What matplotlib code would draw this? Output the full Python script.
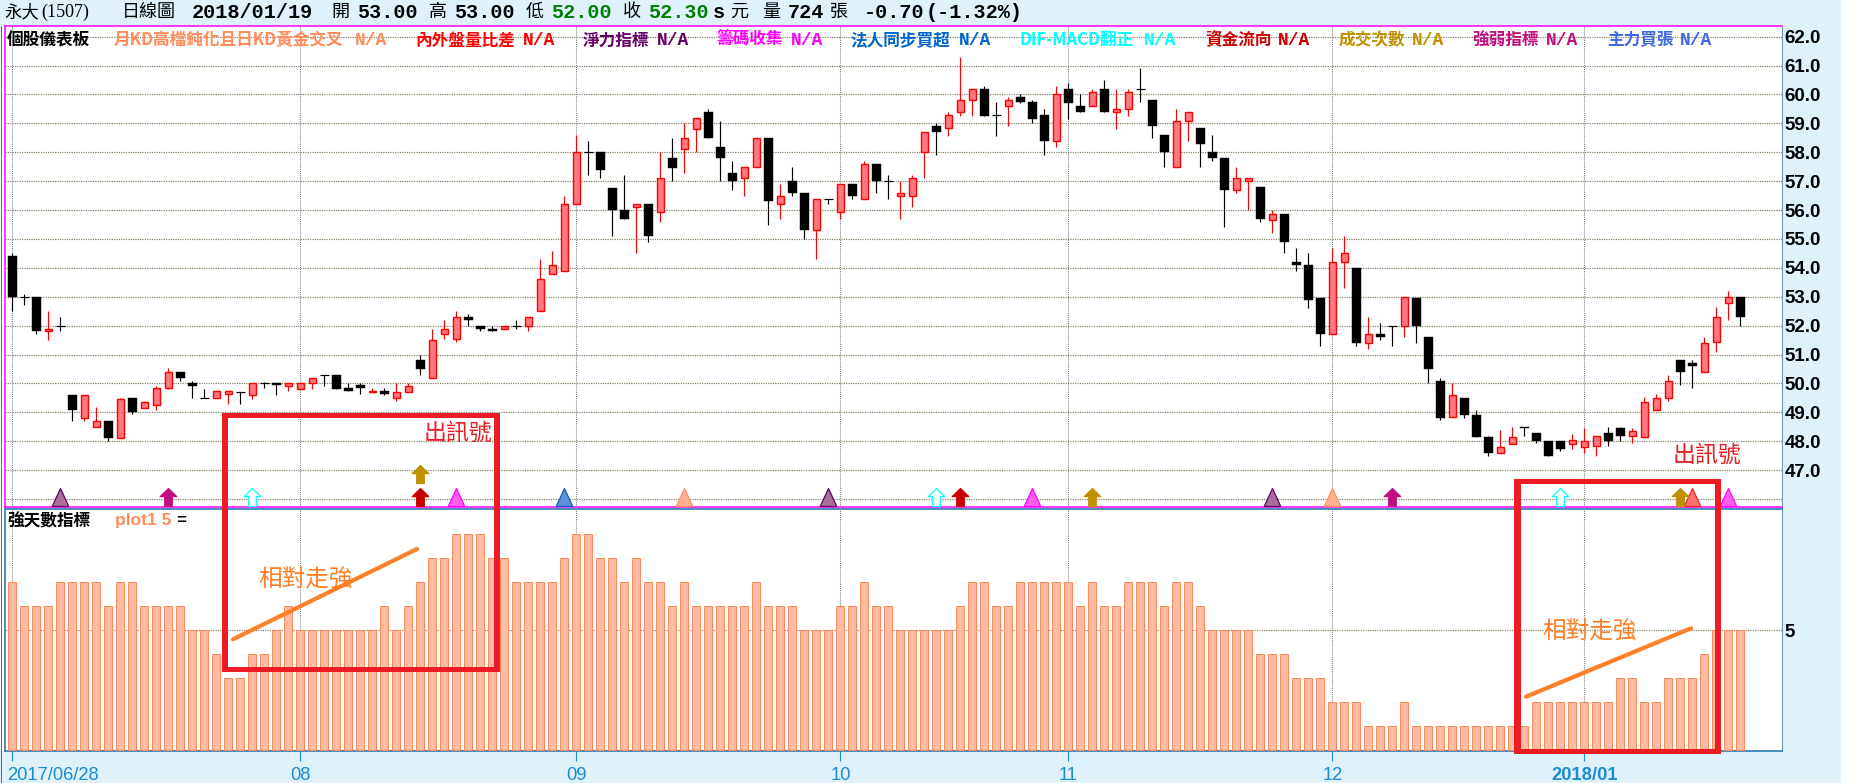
import matplotlib
matplotlib.use("Agg")
import matplotlib.pyplot as plt
import matplotlib.transforms as mt
from matplotlib.path import Path
from matplotlib.patches import Rectangle
from matplotlib.lines import Line2D

W, H = 1860, 783
CJK = ['Noto Sans CJK TC', 'DejaVu Sans']
plt.rcParams['font.family'] = CJK

opens = [54.4,53.0,53.0,51.8,52.0,49.6,48.8,48.5,48.7,48.1,49.5,49.15,49.25,49.85,50.4,50.0,49.5,49.5,49.65,49.7,
 49.6,50.0,50.0,49.9,49.8,50.0,50.3,50.3,49.85,49.95,49.7,49.75,49.5,49.7,50.8,50.2,51.7,51.55,52.3,52.0,
 51.9,51.9,52.0,52.0,52.5,53.8,53.9,56.2,58.0,58.0,56.75,56.0,56.1,56.2,55.95,57.8,58.1,58.8,59.4,58.2,
 57.3,57.1,57.5,58.5,56.2,57.0,56.6,55.3,56.4,55.95,56.9,56.4,57.6,57.0,56.5,56.5,58.0,58.9,58.85,59.4,
 59.8,60.2,59.3,59.6,59.9,59.75,59.3,58.4,60.2,59.6,59.6,60.2,59.4,59.5,60.2,59.8,58.6,57.5,59.1,58.85,
 58.0,57.8,56.7,57.0,56.8,55.65,55.85,54.2,54.1,52.95,51.7,54.2,54.0,51.4,51.7,52.0,52.0,52.95,51.6,50.1,
 48.85,49.5,48.9,48.15,47.6,47.9,48.5,48.3,48.0,48.0,47.9,47.8,47.85,48.3,48.45,48.2,48.15,49.1,49.5,50.8,
 50.7,50.4,51.45,52.8,53.0]
highs = [54.5,53.1,53.0,52.5,52.3,49.6,49.6,49.2,48.7,49.5,49.5,49.4,49.9,50.55,50.4,50.1,49.8,49.75,49.75,49.7,
 50.0,50.05,50.0,50.0,50.0,50.2,50.3,50.3,50.0,50.0,49.85,49.85,50.0,50.0,51.0,51.9,52.2,52.5,52.4,52.0,
 52.0,52.0,52.2,52.3,54.3,54.6,56.5,58.6,58.4,58.0,56.75,57.2,56.2,56.2,58.0,58.5,59.0,59.2,59.5,59.1,
 57.7,57.5,58.5,58.5,56.9,57.5,56.6,56.4,56.4,56.9,56.9,57.7,57.6,57.2,57.0,57.2,58.7,59.0,59.4,61.3,
 60.2,60.3,59.75,59.9,60.0,59.8,59.5,60.3,60.4,60.0,60.2,60.5,60.2,60.2,60.9,59.8,58.6,59.5,59.4,58.85,
 58.6,57.8,57.5,57.1,56.8,56.0,55.85,54.7,54.5,52.95,54.7,55.1,54.0,52.3,52.1,52.0,53.0,52.95,51.6,50.2,
 50.0,49.5,49.1,48.2,48.4,48.5,48.5,48.3,48.0,48.0,48.25,48.45,48.2,48.5,48.5,48.45,49.55,49.65,50.3,50.8,
 50.8,51.6,52.65,53.2,53.0]
lows = [52.5,52.7,51.7,51.5,51.8,48.7,48.7,48.5,48.0,48.1,48.95,49.15,49.1,49.8,50.1,49.5,49.5,49.5,49.3,49.3,
 49.45,49.85,49.6,49.75,49.8,49.8,49.9,49.8,49.75,49.65,49.7,49.6,49.4,49.7,50.3,50.2,51.55,51.45,52.0,51.8,
 51.8,51.9,51.9,51.8,52.5,53.8,53.9,56.2,57.2,57.1,55.1,55.7,54.5,54.9,55.6,57.0,57.3,58.0,58.5,57.0,
 56.7,56.5,57.5,55.5,55.7,56.5,55.0,54.3,56.2,55.7,56.4,56.4,56.6,56.4,55.7,56.1,57.1,57.9,58.55,59.25,
 59.25,59.25,58.55,58.9,59.7,59.0,57.9,58.2,59.15,59.4,59.6,59.4,58.8,59.25,59.75,58.5,57.5,57.5,58.4,57.5,
 57.7,55.4,56.6,56.0,55.6,55.2,54.5,53.9,52.6,51.3,51.7,53.3,51.3,51.2,51.5,51.3,51.6,51.4,50.0,48.75,
 48.85,48.8,48.15,47.5,47.6,47.9,48.2,47.95,47.5,47.65,47.75,47.6,47.5,47.85,48.0,47.95,48.15,49.1,49.4,49.95,
 49.85,50.4,51.1,52.2,52.0]
closes = [53.0,53.0,51.8,51.9,52.0,49.1,49.6,48.7,48.1,49.45,49.0,49.35,49.85,50.4,50.2,49.9,49.5,49.75,49.75,49.7,
 50.0,50.0,49.95,50.0,50.0,50.2,50.3,49.8,49.75,49.85,49.75,49.65,49.7,49.9,50.5,51.5,51.9,52.3,52.2,51.9,
 51.8,52.0,52.0,52.3,53.6,54.1,56.2,58.0,58.0,57.4,56.0,55.7,56.2,55.1,57.1,57.45,58.5,59.2,58.5,57.8,
 57.0,57.5,58.5,56.3,56.5,56.6,55.3,56.4,56.4,56.9,56.5,57.6,57.0,57.0,56.6,57.1,58.7,58.7,59.3,59.8,
 60.2,59.25,59.3,59.8,59.75,59.15,58.4,60.0,59.7,59.4,60.1,59.4,59.5,60.1,60.2,58.9,58.0,59.1,59.4,58.3,
 57.8,56.7,57.1,57.1,55.7,55.85,54.9,54.1,52.9,51.7,54.2,54.5,51.4,51.7,51.6,52.0,53.0,52.0,50.5,48.8,
 49.6,48.9,48.15,47.6,47.8,48.15,48.45,48.0,47.5,47.75,48.05,48.0,48.2,48.0,48.2,48.35,49.35,49.5,50.1,50.4,
 50.6,51.4,52.3,53.0,52.3]
strength = [7,6,6,6,7,7,7,7,6,7,7,6,6,6,6,5,5,4,3,3,4,4,5,6,5,5,5,5,5,5,5,6,5,6,7,8,8,9,9,9,
 8,8,7,7,7,7,8,9,9,8,8,7,8,7,7,6,7,6,6,6,6,6,7,6,6,6,5,5,5,6,6,7,6,6,5,5,5,5,5,6,
 7,7,6,6,7,7,7,7,7,6,7,6,6,7,7,7,6,7,7,6,5,5,5,5,4,4,4,3,3,3,2,2,2,1,1,1,2,1,1,1,
 1,1,1,1,1,1,1,2,2,2,2,2,2,2,3,3,2,2,3,3,3,4,5,5,5]
price_ticks = [47,48,49,50,51,52,53,54,55,56,57,58,59,60,61,62]
price_grid = [46] + price_ticks
month_pos = [0,24,47,69,88,110,131]
month_labels = ['2017/06/28','08','09','10','11','12','2018/01']

tri_purple = [4,68,105]
tri_magenta = [37,85,143]
tri_blue = [46]
tri_salmon = [56,110]
tri_red = [140]
arrow_pink = [13,115]
arrow_cyan = [20,77,129]
arrow_darkred = [34,79]
arrow_gold = [90,139]
arrow_gold_stacked = [34]
signal_level = 46.07
stacked_level = 46.87

legend_items = [
 ('個股儀表板', 7, None, '#000000'),
 ('月KD高檔鈍化且日KD黃金交叉', 114, 354.7, '#FF8C5A'),
 ('內外盤量比差', 415, 522.5, '#FF0000'),
 ('淨力指標', 582.4, 656.6, '#660066'),
 ('籌碼收集', 716.5, 790.6, '#FF00FF'),
 ('法人同步買超', 850.5, 958.5, '#0066CC'),
 ('DIF-MACD翻正', 1019.6, 1144, '#00FFFF'),
 ('資金流向', 1205, 1278, '#CC0000'),
 ('成交次數', 1339, 1412, '#BF9000'),
 ('強弱指標', 1472.7, 1546, '#C0107E'),
 ('主力買張', 1606.7, 1680, '#4169E1'),
]

BG = '#DFF2FC'
GRID_H = '#808060'
GRID_V = '#808080'
BLUE = '#1A6FA8'
MAG = '#FF00FF'
RED_BOX = '#ED1C24'
ORANGE = '#FF7F27'
LBLUE = '#1A8CD0'

fig = plt.figure(figsize=(W/100, H/100), dpi=100, facecolor='white')

back = fig.add_axes([0,0,1,1], zorder=0)
back.set_xlim(0,W); back.set_ylim(H,0); back.axis('off')
back.add_patch(Rectangle((0,0), 1841, H, fc=BG, ec='none'))
back.add_patch(Rectangle((0,26), 6, 725, fc='white', ec='none'))

PL, PR = 5.3, 1782
def axes_px(top, bottom):
    return [PL/W, 1-bottom/H, (PR-PL)/W, (bottom-top)/H]

ax1 = fig.add_axes(axes_px(26, 506.7), zorder=1, facecolor='white')
ax2 = fig.add_axes(axes_px(509.3, 751), zorder=1, facecolor='white')
xlim = ((PL-12.33)/12, (PR-12.33)/12)
ax1.set_xlim(*xlim); ax2.set_xlim(*xlim)
ax1.set_ylim(62-(506.7-36.7)/28.9, 62+(36.7-26)/28.9)
ax2.set_ylim(-0.03, 10.04)

dots = (0,(1,1))
for v in price_grid:
    ax1.axhline(v, color=GRID_H, lw=0.85, ls=dots, zorder=1)
for p in month_pos:
    ax1.axvline(p, color=GRID_V, lw=0.75, ls=dots, zorder=1)
    ax2.axvline(p, color=GRID_V, lw=0.75, ls=dots, zorder=1)
ax2.axhline(5, color=GRID_H, lw=0.85, ls=dots, zorder=1)

# candles
idx = range(len(closes))
for i in idx:
    o, h, l, c = opens[i], highs[i], lows[i], closes[i]
    up = c > o
    col = '#FF0000' if up else '#000000'
    ax1.vlines(i, l, h, color=col, lw=0.85, zorder=3)
    if o == c:
        ax1.hlines(c, i-0.36, i+0.36, color='#000000', lw=0.85, zorder=3)
    elif up:
        ax1.bar(i, c-o, bottom=o, width=0.62, fc='#FF7880', ec='#FF0000', lw=1.0, zorder=4)
    else:
        ax1.bar(i, o-c, bottom=c, width=0.72, fc='#000000', ec='#000000', lw=0.3, zorder=4)

# signal markers
tri = Path([(-0.92,-1),(0,1),(0.92,-1),(-0.92,-1)], closed=True)
arrow = Path([(0,1),(0.92,0.1),(0.42,0.1),(0.42,-1),(-0.42,-1),(-0.42,0.1),(-0.92,0.1),(0,1)], closed=True)
ms = 18*72/100
def mark(xs, level, path, fc, ec, lw=0.9):
    ax1.plot(xs, [level]*len(xs), ls='none', marker=path, ms=ms, mfc=fc, mec=ec, mew=lw, zorder=5)
mark(tri_purple, signal_level, tri, '#A87098', '#600060')
mark(tri_magenta, signal_level, tri, '#FF60F0', '#FF00FF')
mark(tri_blue, signal_level, tri, '#6090D8', '#1060C0')
mark(tri_salmon, signal_level, tri, '#FFB090', '#FF9060')
mark(tri_red, signal_level, tri, '#FF7070', '#FF2020')
mark(arrow_pink, signal_level, arrow, '#C0107E', '#C0107E')
mark(arrow_cyan, signal_level, arrow, '#FFFFFF', '#00FFFF')
mark(arrow_darkred, signal_level, arrow, '#C80000', '#C80000')
mark(arrow_gold, signal_level, arrow, '#BF9000', '#BF9000')
mark(arrow_gold_stacked, stacked_level, arrow, '#BF9000', '#BF9000')

# lower bars
ax2.bar(list(idx), strength, width=0.66, fc='#FFBBA3', ec='#FF8A5C', lw=0.72, zorder=3)

# axes styling
for ax in (ax1, ax2):
    ax.yaxis.tick_right()
for s in ('top','bottom','left'):
    ax1.spines[s].set_color(MAG); ax1.spines[s].set_linewidth(1.1)
ax1.spines['right'].set_color('#6A9AB8'); ax1.spines['right'].set_linewidth(0.8)
for s in ('top','bottom','left'):
    ax2.spines[s].set_color(BLUE); ax2.spines[s].set_linewidth(1.1)
ax2.spines['right'].set_color('#6A9AB8'); ax2.spines['right'].set_linewidth(0.8)

ax1.set_xticks([])
ax1.set_yticks(price_ticks)
ax1.set_yticklabels([f'{v:.1f}' for v in price_ticks], family=['Liberation Sans'], weight='bold', fontsize=13.5)
ax1.tick_params(axis='y', length=0, pad=2)
ax2.set_yticks([5]); ax2.set_yticklabels(['5'], family=['Liberation Sans'], weight='bold', fontsize=13.5)
ax2.tick_params(axis='y', length=0, pad=2)
ax2.set_xticks(month_pos)
ax2.set_xticklabels(month_labels, family=['Liberation Sans'], fontsize=13.2, color=LBLUE)
ax2.tick_params(axis='x', length=7.2, width=0.8, color=LBLUE, pad=4)
lbls = ax2.get_xticklabels()
lbls[0].set_ha('left')
lbls[0].set_transform(lbls[0].get_transform() + mt.Affine2D().translate(-5.5, 0))
lbls[-1].set_weight('bold')

# overlay
ov = fig.add_axes([0,0,1,1], zorder=5)
ov.set_xlim(0,W); ov.set_ylim(H,0); ov.axis('off'); ov.patch.set_alpha(0)
ov.add_line(Line2D([1.3,1.3],[26,H], color='#FF2020', lw=0.7))

TY = 12
def hd(x, s, color='black', mono=True, size=14.5, weight='bold'):
    fam = ['Liberation Mono'] if mono else CJK
    ov.text(x, TY, s, family=fam, color=color, fontsize=size, weight=weight, va='center', ha='left')
ov.text(4, TY, '永大', family=CJK, fontsize=12.5, va='center')
ov.text(41.5, TY, '(1507)', family=['Liberation Serif'], fontsize=13, va='center')
hd(121.6, '日線圖', mono=False, size=13, weight='normal')
hd(191.6, '2018/01/19')
for x, s in [(331,'開'),(429,'高'),(525.5,'低'),(623,'收'),(730,'元'),(762,'量'),(830,'張')]:
    hd(x, s, mono=False, size=13, weight='normal')
hd(357, '53.00'); hd(454, '53.00')
hd(551, '52.00', color='#008000'); hd(648, '52.30', color='#008000')
hd(713, 's'); hd(788, '724'); hd(864, '-0.70'); hd(926, '(-1.32%)')

for label, x, xna, col in legend_items:
    ov.text(x, 38.3, label, family=CJK, weight='bold', color=col, fontsize=12, va='center_baseline', ha='left')
    if xna is not None:
        ov.text(xna, 38.3, 'N/A', family=['Liberation Mono'], weight='bold', color=col, fontsize=13, va='center_baseline', ha='left')

ov.text(7, 521, '強天數指標', family=CJK, weight='bold', color='black', fontsize=12, va='center')
ov.text(114.5, 521, 'plot1 5', family=['Liberation Sans'], weight='bold', color='#FF8C5A', fontsize=12.5, va='center')
ov.text(176, 521, '=', family=['Liberation Mono'], weight='bold', color='black', fontsize=12, va='center')

def box(l, r, t, b):
    tx, ty = 6.5, 4.5
    for rect in [(l,t,r-l,ty),(l,b-ty,r-l,ty),(l,t,tx,b-t),(r-tx,t,tx,b-t)]:
        ov.add_patch(Rectangle(rect[:2], rect[2], rect[3], fc=RED_BOX, ec='none'))
box(221.8, 500, 413.3, 671.7)
box(1514, 1721, 479.3, 753.7)

ov.add_line(Line2D([233,417],[639.3,549], color=ORANGE, lw=3, solid_capstyle='round'))
ov.add_line(Line2D([1526,1691],[696.7,628.3], color=ORANGE, lw=3, solid_capstyle='round'))
ov.text(305.8, 580, '相對走強', family=CJK, color=ORANGE, fontsize=17, ha='center', va='center')
ov.text(1590, 632, '相對走強', family=CJK, color=ORANGE, fontsize=17, ha='center', va='center')
ov.text(457.7, 433, '出訊號', family=CJK, color=RED_BOX, fontsize=16.5, ha='center', va='center')
ov.text(1706.8, 455, '出訊號', family=CJK, color=RED_BOX, fontsize=16.5, ha='center', va='center')

fig.savefig('out.png', dpi=100, facecolor=fig.get_facecolor())
